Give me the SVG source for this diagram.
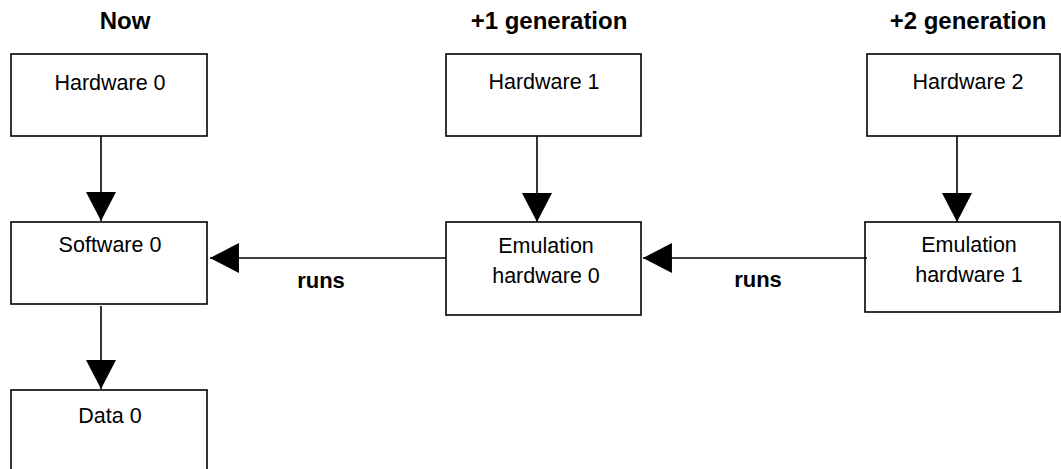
<svg xmlns="http://www.w3.org/2000/svg" width="1061" height="469" viewBox="0 0 1061 469">
<style>
.box{fill:#fff;stroke:#000;stroke-width:1.6}
.t{font-family:"Liberation Sans",Arial,sans-serif;font-size:21.5px;fill:#000;text-anchor:middle}
.h{font-family:"Liberation Sans",Arial,sans-serif;font-size:24px;font-weight:bold;fill:#000;text-anchor:middle}
.r{font-family:"Liberation Sans",Arial,sans-serif;font-size:22px;font-weight:bold;fill:#000;text-anchor:middle}
.c{stroke:#000;stroke-width:1.6;fill:none;marker-end:url(#ah)}
</style>
<defs>
<marker id="ah" markerUnits="userSpaceOnUse" markerWidth="30" markerHeight="30" viewBox="0 0 27 28" refX="27" refY="14" orient="auto">
<path d="M0,0 L27,14 L0,28 Z" fill="#000"/>
</marker>
</defs>
<g id="titles">
<text class="h" x="125" y="29">Now</text>
<text class="h" x="549" y="29">+1 generation</text>
<text class="h" x="968" y="29">+2 generation</text>
</g>
<g id="hw0"><rect class="box" x="11" y="54" width="196" height="82"/><text class="t" x="110" y="90">Hardware 0</text></g>
<g id="sw0"><rect class="box" x="11" y="222" width="196" height="82"/><text class="t" x="110" y="252">Software 0</text></g>
<g id="data0"><rect class="box" x="11" y="390" width="196" height="100"/><text class="t" x="110" y="423">Data 0</text></g>
<g id="hw1"><rect class="box" x="446" y="54" width="195" height="82"/><text class="t" x="544" y="89">Hardware 1</text></g>
<g id="emu0"><rect class="box" x="446" y="222" width="195" height="93"/><text class="t" x="546" y="253">Emulation</text><text class="t" x="546" y="283">hardware 0</text></g>
<g id="hw2"><rect class="box" x="867" y="54" width="193" height="82"/><text class="t" x="968" y="89">Hardware 2</text></g>
<g id="emu1"><rect class="box" x="865" y="222" width="195" height="90"/><text class="t" x="969" y="252">Emulation</text><text class="t" x="969" y="282">hardware 1</text></g>
<g id="connectors">
<line class="c" x1="101" y1="136" x2="101" y2="221"/>
<line class="c" x1="101" y1="306" x2="101" y2="389"/>
<line class="c" x1="537" y1="136" x2="537" y2="222"/>
<line class="c" x1="957" y1="136" x2="957" y2="222"/>
<line class="c" x1="446" y1="258" x2="210" y2="258"/>
<line class="c" x1="867" y1="258" x2="643" y2="258"/>
<text class="r" x="321" y="288">runs</text>
<text class="r" x="758" y="287">runs</text>
</g>
</svg>
